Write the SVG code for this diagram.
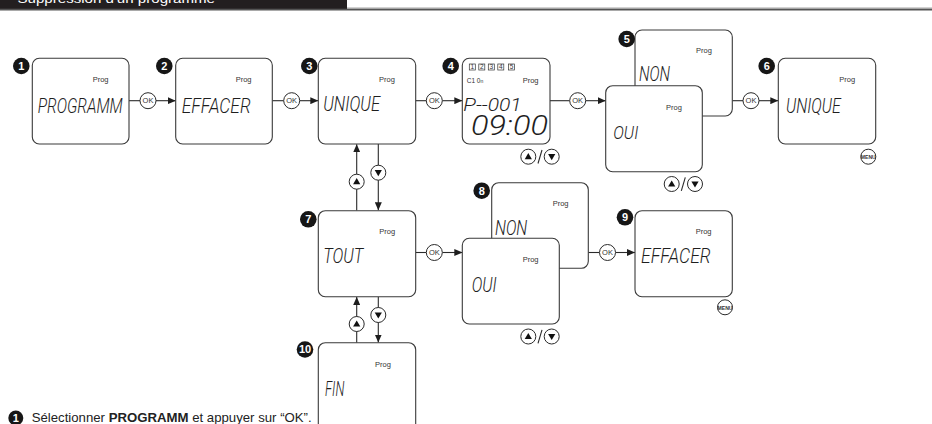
<svg xmlns="http://www.w3.org/2000/svg" xmlns:xlink="http://www.w3.org/1999/xlink" width="932" height="424" viewBox="0 0 932 424">
<style>
.box{fill:#fff;stroke:#3a3a3a;stroke-width:1.1}
.prog{font-family:"Liberation Sans",Arial,sans-serif;font-size:7.5px;fill:#333}
.lcd{font-family:Roboto,"Liberation Sans",sans-serif;font-weight:300;font-style:italic;fill:#1e1e1e}
.bdg{fill:#161616}
.bdgt{font-family:"Liberation Sans",Arial,sans-serif;font-weight:bold;font-size:11px;fill:#fff;text-anchor:middle}
.ln{stroke:#2a2a2a;stroke-width:1.1;fill:none}
.btn{fill:#fff;stroke:#2a2a2a;stroke-width:1}
.okt{font-family:"Liberation Sans",Arial,sans-serif;font-size:7.5px;fill:#333;text-anchor:middle}
.menut{font-family:"Liberation Sans",Arial,sans-serif;font-size:6px;font-weight:bold;fill:#333;text-anchor:middle}
.sm{font-family:"Liberation Sans",Arial,sans-serif;font-size:6.5px;fill:#333}
</style>
<defs>
<marker id="ah" markerUnits="userSpaceOnUse" markerWidth="8" markerHeight="7" refX="8" refY="3.5" orient="auto">
<path d="M0,0 L8,3.5 L0,7 z" fill="#1e1e1e"/>
</marker>
<g id="up"><circle class="btn" r="7.5"/><polygon points="-3.6,2.6 3.6,2.6 0,-3.6" fill="#111"/></g>
<g id="dn"><circle class="btn" r="7.5"/><polygon points="-3.6,-2.6 3.6,-2.6 0,3.6" fill="#111"/></g>
<g id="ok"><circle class="btn" r="8"/><text class="okt" y="2.7">OK</text></g>
<g id="menu"><circle class="btn" r="7.5"/><text class="menut" y="2.2" textLength="15" lengthAdjust="spacingAndGlyphs">MENU</text></g>
</defs>

<g id="header">
<rect x="0" y="0" width="347" height="9.5" fill="#231f20"/>
<rect x="347" y="7.4" width="585" height="1.3" fill="#b5b5b5"/>
<rect x="0" y="8.7" width="932" height="1.8" fill="#555"/>
<text x="8" y="2.8" font-family="Liberation Sans,Arial,sans-serif" font-size="12" fill="#fff" textLength="207" lengthAdjust="spacingAndGlyphs">• Suppression d'un programme</text>
</g>

<g id="connectors">
<line class="ln" x1="129" y1="100.7" x2="140" y2="100.7"/>
<line class="ln" x1="156" y1="100.7" x2="175.7" y2="100.7" marker-end="url(#ah)"/>
<line class="ln" x1="272.3" y1="100.7" x2="283.7" y2="100.7"/>
<line class="ln" x1="299.7" y1="100.7" x2="318.3" y2="100.7" marker-end="url(#ah)"/>
<line class="ln" x1="415.7" y1="100.7" x2="426.3" y2="100.7"/>
<line class="ln" x1="442.3" y1="100.7" x2="462.3" y2="100.7" marker-end="url(#ah)"/>
<line class="ln" x1="550" y1="100.7" x2="569.7" y2="100.7"/>
<line class="ln" x1="585.7" y1="100.7" x2="605.7" y2="100.7" marker-end="url(#ah)"/>
<line class="ln" x1="732.3" y1="100.7" x2="743" y2="100.7"/>
<line class="ln" x1="759" y1="100.7" x2="778.3" y2="100.7" marker-end="url(#ah)"/>
<line class="ln" x1="415.7" y1="252.5" x2="426.3" y2="252.5"/>
<line class="ln" x1="442.3" y1="252.5" x2="462.3" y2="252.5" marker-end="url(#ah)"/>
<line class="ln" x1="588.3" y1="252.5" x2="599.5" y2="252.5"/>
<line class="ln" x1="615.5" y1="252.5" x2="635" y2="252.5" marker-end="url(#ah)"/>
<line class="ln" x1="356.7" y1="210.5" x2="356.7" y2="144.3" marker-end="url(#ah)"/>
<line class="ln" x1="378.3" y1="144" x2="378.3" y2="210.3" marker-end="url(#ah)"/>
<line class="ln" x1="356.7" y1="342.7" x2="356.7" y2="296.9" marker-end="url(#ah)"/>
<line class="ln" x1="378.3" y1="296.7" x2="378.3" y2="342.5" marker-end="url(#ah)"/>
<use xlink:href="#ok" x="148" y="100.7"/>
<use xlink:href="#ok" x="291.7" y="100.7"/>
<use xlink:href="#ok" x="434.3" y="100.7"/>
<use xlink:href="#ok" x="577.7" y="100.7"/>
<use xlink:href="#ok" x="751" y="100.7"/>
<use xlink:href="#ok" x="434.3" y="252.5"/>
<use xlink:href="#ok" x="607.5" y="252.5"/>
<use xlink:href="#up" x="356.7" y="181.7"/>
<use xlink:href="#dn" x="378.3" y="172.7"/>
<use xlink:href="#up" x="356.7" y="324"/>
<use xlink:href="#dn" x="378.3" y="315"/>
</g>

<g id="n1">
<rect class="box" x="32.3" y="58.3" width="96.7" height="85.7" rx="7"/>
<text class="prog" x="92.7" y="82.3">Prog</text>
<text class="lcd" x="37.7" y="112.7" font-size="20" textLength="85" lengthAdjust="spacingAndGlyphs">PROGRAMM</text>
<circle class="bdg" cx="21.3" cy="66" r="8.3"/><text class="bdgt" x="21.3" y="70">1</text>
</g>

<g id="n2">
<rect class="box" x="175.7" y="58.3" width="96.6" height="85.7" rx="7"/>
<text class="prog" x="235.7" y="82.3">Prog</text>
<text class="lcd" x="181.7" y="112.7" font-size="20" textLength="69" lengthAdjust="spacingAndGlyphs">EFFACER</text>
<circle class="bdg" cx="164.3" cy="66" r="8.3"/><text class="bdgt" x="164.3" y="70">2</text>
</g>

<g id="n3">
<rect class="box" x="318.3" y="58.3" width="97.4" height="85.7" rx="7"/>
<text class="prog" x="379" y="82.3">Prog</text>
<text class="lcd" x="323.3" y="111" font-size="20" textLength="56.7" lengthAdjust="spacingAndGlyphs">UNIQUE</text>
<circle class="bdg" cx="309.3" cy="66" r="8.3"/><text class="bdgt" x="309.3" y="70">3</text>
</g>

<g id="n4">
<rect class="box" x="462.3" y="58.3" width="87.7" height="85.7" rx="7"/>
<g fill="none" stroke="#333" stroke-width="0.7">
<rect x="469.3" y="64" width="6" height="6"/><rect x="478.8" y="64" width="6" height="6"/><rect x="488.3" y="64" width="6" height="6"/><rect x="497.8" y="64" width="6" height="6"/><rect x="508.5" y="64" width="6" height="6"/>
</g>
<g class="sm" font-size="5.5" text-anchor="middle">
<text x="472.3" y="69">1</text><text x="481.8" y="69">2</text><text x="491.3" y="69">3</text><text x="500.8" y="69">4</text><text x="511.5" y="69">5</text>
</g>
<text class="sm" x="466.7" y="83">C1 0<tspan font-size="5">n</tspan></text>
<text class="prog" x="522.7" y="83">Prog</text>
<text class="lcd" x="463.3" y="110.5" font-size="19" textLength="58.4" lengthAdjust="spacingAndGlyphs">P--001</text>
<text class="lcd" x="471" y="135" font-size="27" textLength="77" lengthAdjust="spacingAndGlyphs">09:00</text>
<circle class="bdg" cx="450.7" cy="66" r="8.3"/><text class="bdgt" x="450.7" y="70">4</text>
<use xlink:href="#up" x="528.3" y="156.7"/>
<line class="ln" x1="538" y1="163.5" x2="542" y2="150"/>
<use xlink:href="#dn" x="551.7" y="156.7"/>
</g>

<g id="n5">
<rect class="box" x="635" y="30" width="97.3" height="86" rx="7"/>
<text class="prog" x="696" y="53.3">Prog</text>
<text class="lcd" x="639" y="80.7" font-size="20" textLength="31" lengthAdjust="spacingAndGlyphs">NON</text>
<rect class="box" x="605.7" y="85.7" width="96.6" height="86" rx="7"/>
<text class="prog" x="666" y="110">Prog</text>
<text class="lcd" x="613.3" y="139.3" font-size="19" textLength="25" lengthAdjust="spacingAndGlyphs">OUI</text>
<circle class="bdg" cx="626.7" cy="39" r="8.3"/><text class="bdgt" x="626.7" y="43">5</text>
<use xlink:href="#up" x="671.7" y="184"/>
<line class="ln" x1="681.3" y1="190.8" x2="685.3" y2="177.3"/>
<use xlink:href="#dn" x="695" y="184"/>
</g>

<g id="n6">
<rect class="box" x="778.3" y="58.3" width="97.4" height="85.7" rx="7"/>
<text class="prog" x="839.3" y="82.3">Prog</text>
<text class="lcd" x="786" y="113.3" font-size="21" textLength="54.7" lengthAdjust="spacingAndGlyphs">UNIQUE</text>
<circle class="bdg" cx="766.7" cy="66" r="8.3"/><text class="bdgt" x="766.7" y="70">6</text>
<use xlink:href="#menu" x="868.3" y="156.7"/>
</g>

<g id="n7">
<rect class="box" x="318.3" y="210.7" width="97.4" height="86" rx="7"/>
<text class="prog" x="379.3" y="234">Prog</text>
<text class="lcd" x="323.3" y="262.7" font-size="20.5" textLength="40" lengthAdjust="spacingAndGlyphs">TOUT</text>
<circle class="bdg" cx="308.3" cy="219.3" r="8.3"/><text class="bdgt" x="308.3" y="223.3">7</text>
</g>

<g id="n8">
<rect class="box" x="491.7" y="182.7" width="96.6" height="85.6" rx="7"/>
<text class="prog" x="552.7" y="206">Prog</text>
<text class="lcd" x="495" y="235" font-size="20" textLength="32.3" lengthAdjust="spacingAndGlyphs">NON</text>
<rect class="box" x="462.3" y="238.3" width="97" height="85.7" rx="7"/>
<text class="prog" x="522.7" y="262.3">Prog</text>
<text class="lcd" x="471.7" y="291.7" font-size="20.5" textLength="25" lengthAdjust="spacingAndGlyphs">OUI</text>
<circle class="bdg" cx="481.7" cy="190.7" r="8.3"/><text class="bdgt" x="481.7" y="194.7">8</text>
<use xlink:href="#up" x="528.3" y="336.5"/>
<line class="ln" x1="538" y1="343.3" x2="542" y2="329.8"/>
<use xlink:href="#dn" x="551.7" y="336.5"/>
</g>

<g id="n9">
<rect class="box" x="635" y="210.7" width="97.3" height="86" rx="7"/>
<text class="prog" x="695.7" y="234">Prog</text>
<text class="lcd" x="641" y="262.7" font-size="19.5" textLength="69.7" lengthAdjust="spacingAndGlyphs">EFFACER</text>
<circle class="bdg" cx="625" cy="217.3" r="8.3"/><text class="bdgt" x="625" y="221.3">9</text>
<use xlink:href="#menu" x="725" y="307.3"/>
</g>

<g id="n10">
<rect class="box" x="318.3" y="342.7" width="97.4" height="100" rx="7"/>
<text class="prog" x="375" y="366.7">Prog</text>
<text class="lcd" x="325" y="396" font-size="20" textLength="19.3" lengthAdjust="spacingAndGlyphs">FIN</text>
<circle class="bdg" cx="305" cy="349.5" r="8.3"/><text class="bdgt" x="305" y="353" font-size="9.5">10</text>
</g>

<g id="note">
<circle class="bdg" cx="15.8" cy="418" r="7.5"/><text class="bdgt" x="15.8" y="421.8" font-size="10">1</text>
<text x="31.7" y="421.5" font-family="Liberation Sans,Arial,sans-serif" font-size="13.2" fill="#222">Sélectionner <tspan font-weight="bold">PROGRAMM</tspan> et appuyer sur “OK”.</text>
</g>
</svg>
